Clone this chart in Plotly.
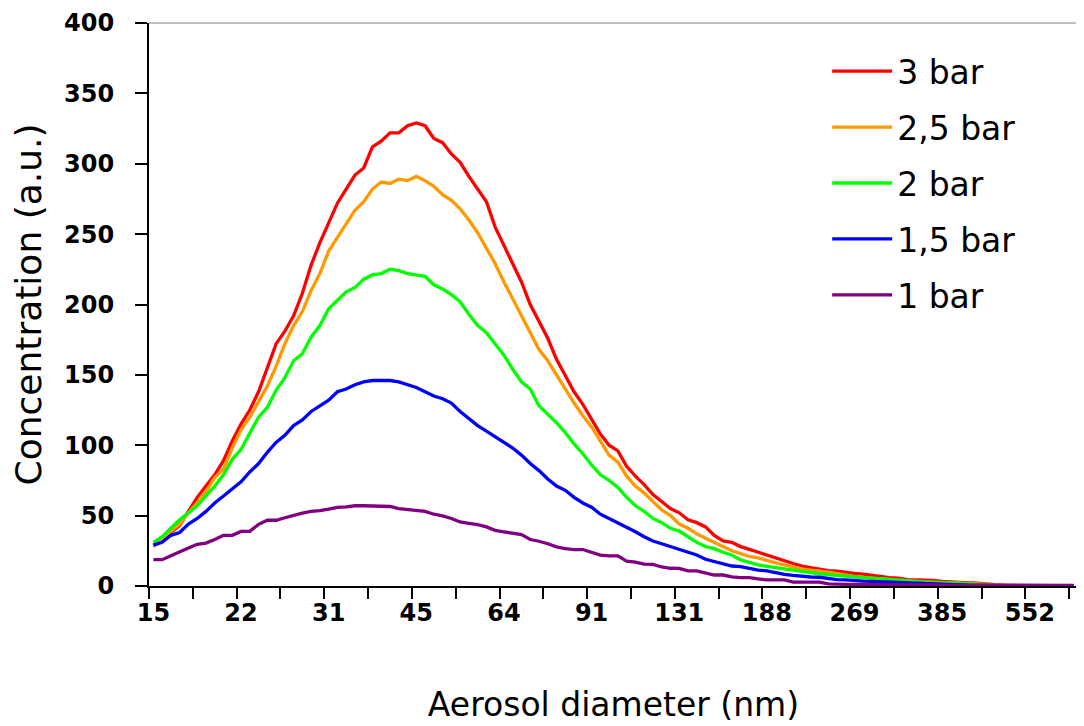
import plotly.graph_objects as go

# SMPS size-bin mid-point diameters (nm), one category per bin
diameter_nm = [
    15.1, 15.7, 16.3, 16.8, 17.5, 18.1, 18.8, 19.5, 20.2, 20.9,
    21.7, 22.5, 23.3, 24.1, 25.0, 25.9, 26.9, 27.9, 28.9, 30.0,
    31.1, 32.2, 33.4, 34.6, 35.9, 37.2, 38.5, 40.0, 41.4, 42.9,
    44.5, 46.1, 47.8, 49.6, 51.4, 53.3, 55.2, 57.3, 59.4, 61.5,
    63.8, 66.1, 68.5, 71.0, 73.7, 76.4, 79.1, 82.0, 85.1, 88.2,
    91.4, 94.7, 98.2, 101.8, 105.5, 109.4, 113.4, 117.6, 121.9, 126.3,
    131.0, 135.8, 140.7, 145.9, 151.2, 156.8, 162.5, 168.5, 174.7, 181.1,
    187.7, 194.6, 201.7, 209.1, 216.7, 224.7, 232.9, 241.4, 250.3, 259.5,
    269.0, 278.8, 289.0, 299.6, 310.6, 322.0, 333.8, 346.0, 358.7, 371.8,
    385.4, 399.5, 414.2, 429.4, 445.1, 461.4, 478.3, 495.8, 514.0, 532.8,
    552.3, 572.5, 593.5, 615.3, 637.8, 661.2,
]

# Category labels shown on the x axis (every 10th bin)
tick_labels = ["15", "22", "31", "45", "64", "91", "131", "188", "269", "385", "552"]

series_names = ["3 bar", "2,5 bar", "2 bar", "1,5 bar", "1 bar"]

conc_3bar = [
    29, 33, 38, 43, 53, 63, 71, 79, 89, 103,
    115, 125, 138, 155, 172, 181, 192, 208, 228, 244,
    258, 272, 282, 292, 297, 312, 316, 322, 322, 327,
    329, 327, 318, 315, 307, 301, 291, 282, 273, 255,
    242, 229, 216, 200, 188, 176, 161, 150, 138, 129,
    118, 108, 100, 96, 85, 78, 72, 65, 60, 55,
    52, 47, 45, 42, 36, 32, 31, 28, 26, 24,
    21.5, 19.7, 17.8, 16, 14.2, 13, 11.8, 11, 10.5, 9.5,
    9, 8.5, 7.5, 7, 6, 5.5, 4.5, 4.3, 4.1, 4,
    3.2, 2.7, 2.5, 2.2, 2, 1.5, 0.7, 0.4, 0.3, 0.3,
    0.3, 0.3, 0.3, 0.3, 0.3, 0.3,
]

conc_2_5bar = [
    28, 33, 39, 44, 52, 59, 67, 77, 83, 98,
    111, 120, 131, 142, 156, 172, 185, 195, 210, 222,
    238, 248, 258, 267, 273, 282, 287, 286, 289, 288,
    291, 288, 284, 278, 274, 268, 260, 251, 240, 229,
    216, 204, 192, 179, 168, 160, 150, 139, 130, 121,
    113, 103, 93, 88, 78, 71, 66, 60, 54, 50,
    44, 41, 37, 34, 31, 28, 25, 23, 21, 20,
    18, 16.5, 15, 13.5, 12, 11.2, 10.7, 9.8, 8.7, 7.5,
    6.7, 6, 5.5, 5, 4.5, 4, 3.5, 3.2, 3, 2.8,
    2.5, 2.2, 2, 1.7, 1.5, 1.2, 0.8, 0.4, 0.3, 0.2,
    0.2, 0.2, 0.2, 0.2, 0.2, 0.2,
]

conc_2bar = [
    31, 35, 41, 47, 52, 57, 64, 71, 79, 90,
    97, 108, 120, 127, 139, 148, 160, 165, 177, 185,
    197, 203, 209, 212, 218, 221, 222, 225, 224, 222,
    221, 220, 214, 211, 207, 202, 193, 185, 180, 172,
    164, 154, 145, 140, 128, 122, 116, 109, 101, 94,
    86, 79, 75, 70, 63, 57, 53, 48, 45, 41,
    39, 35, 31, 28, 26.5, 24, 22, 18.5, 16.5, 15,
    14, 13, 12.2, 11, 10.5, 9.5, 8.7, 8, 7.3, 7,
    6.5, 6, 5.5, 5, 4.5, 4, 3.5, 3.1, 2.8, 2.6,
    2.5, 2.3, 2, 1.5, 1, 0.6, 0.4, 0.3, 0.2, 0.2,
    0.2, 0.2, 0.2, 0.2, 0.2, 0.2,
]

conc_1_5bar = [
    29, 31, 36, 38, 44, 48, 53, 59, 64, 69,
    74, 81, 87, 95, 102, 107, 114, 118, 124, 128,
    132, 138, 140, 143, 145, 146, 146, 146, 145, 143,
    141, 138, 135, 133, 130, 124, 119, 114, 110, 106,
    102, 98, 93, 87, 82, 76, 71, 68, 63, 59,
    56, 51, 48, 45, 42, 38.5, 35, 32, 30, 28,
    26.5, 24, 22, 19, 17.5, 15.5, 14.2, 13.7, 12.3, 11.3,
    10.8, 9.5, 8.3, 7.5, 6.7, 6.4, 6.2, 5.3, 4.5, 4.3,
    3.7, 3.5, 3.3, 3, 2.8, 2.5, 2.2, 2, 1.8, 1.5,
    1.3, 1, 0.8, 0.6, 0.5, 0.3, 0.3, 0.3, 0.3, 0.3,
    0.3, 0.3, 0.3, 0.3, 0.3, 0.3,
]

conc_1bar = [
    18.7, 18.7, 21.5, 24.5, 27, 29.6, 30.5, 33, 36, 36,
    38.8, 38.8, 43.8, 46.7, 46.7, 48.5, 50.3, 51.8, 53, 53.5,
    54.6, 55.9, 56.2, 57, 57, 57, 57, 56.5, 55, 54.5,
    54, 53, 51, 49.8, 48, 45.5, 44.5, 43.6, 42, 39.5,
    38.5, 37.5, 36.5, 33, 31.8, 30, 27.8, 26.5, 25.9, 25.9,
    23.9, 22, 21.4, 21.4, 17.7, 17, 15.5, 15.4, 13.5, 12.6,
    12.5, 10.7, 10.7, 9, 7.8, 7.8, 6.5, 5.9, 5.9, 5,
    4.3, 4.3, 4.3, 2.8, 2.8, 2.8, 2.8, 1.5, 1.2, 1.2,
    1.2, 1.1, 1.0, 1.0, 0.9, 0.9, 0.8, 0.8, 0.7, 0.7,
    0.6, 0.6, 0.6, 0.6, 0.6, 0.5, 0.5, 0.5, 0.5, 0.5,
    0.5, 0.5, 0.5, 0.5, 0.5, 0.5,
]

series_values = [conc_3bar, conc_2_5bar, conc_2bar, conc_1_5bar, conc_1bar]
series_colors = ["#FF0000", "#FF9900", "#00FF00", "#0000FF", "#800080"]

for vals in series_values:
    assert len(vals) == len(diameter_nm), len(vals)

# category positions on the axis
x_pos = list(range(len(diameter_nm)))
label_pos = [i for i in x_pos if i % 10 == 0]
boundary_pos = [i - 0.5 for i in x_pos if i % 5 == 0]

fig = go.Figure()
for name, vals, col in zip(series_names, series_values, series_colors):
    fig.add_trace(go.Scatter(
        x=x_pos, y=vals, name=name, mode="lines",
        line=dict(color=col, width=3.3),
        customdata=diameter_nm,
        hovertemplate="%{customdata} nm: %{y}<extra>" + name + "</extra>",
        legendgroup=name,
    ))

FONT = "DejaVu Sans"

fig.update_layout(
    width=1076, height=718,
    margin=dict(l=141, r=6, t=15, b=140),
    paper_bgcolor="white", plot_bgcolor="white",
    font=dict(family=FONT, color="black"),
    showlegend=True,
    legend=dict(
        x=0.730, y=0.964, xanchor="left", yanchor="top",
        font=dict(family=FONT, size=33, color="black"),
        bgcolor="rgba(0,0,0,0)", borderwidth=0,
        itemwidth=60, tracegroupgap=10,
    ),
    xaxis=dict(
        range=[-0.5, len(diameter_nm) - 0.5],
        tickmode="array", tickvals=label_pos, ticktext=tick_labels,
        ticks="", showgrid=False, zeroline=False,
        showline=True, linecolor="black", linewidth=2,
        tickfont=dict(family=FONT, size=24, weight="bold"),
        ticklabelstandoff=4,
        minor=dict(tickmode="array", tickvals=boundary_pos, ticks="outside",
                   ticklen=11, tickwidth=1.5, tickcolor="black", showgrid=False),
        title=dict(text="Aerosol diameter (nm)",
                   font=dict(family=FONT, size=33), standoff=67),
        automargin=False,
    ),
    yaxis=dict(
        range=[0, 400], tickmode="linear", tick0=0, dtick=50,
        ticks="outside", ticklen=12, tickwidth=1.5, tickcolor="black",
        showgrid=False, zeroline=False,
        showline=True, linecolor="black", linewidth=2,
        tickfont=dict(family=FONT, size=24, weight="bold"),
        ticklabelstandoff=16,
        title=dict(text="Concentration (a.u.)",
                   font=dict(family=FONT, size=36), standoff=14),
        automargin=False,
    ),
    shapes=[
        dict(type="line", xref="paper", yref="paper", x0=0, x1=1, y0=1, y1=1,
             line=dict(color="#808080", width=1)),
        dict(type="line", xref="paper", yref="paper", x0=1, x1=1, y0=0, y1=1,
             line=dict(color="#808080", width=1)),
    ],
)

fig.write_html("out.html")
